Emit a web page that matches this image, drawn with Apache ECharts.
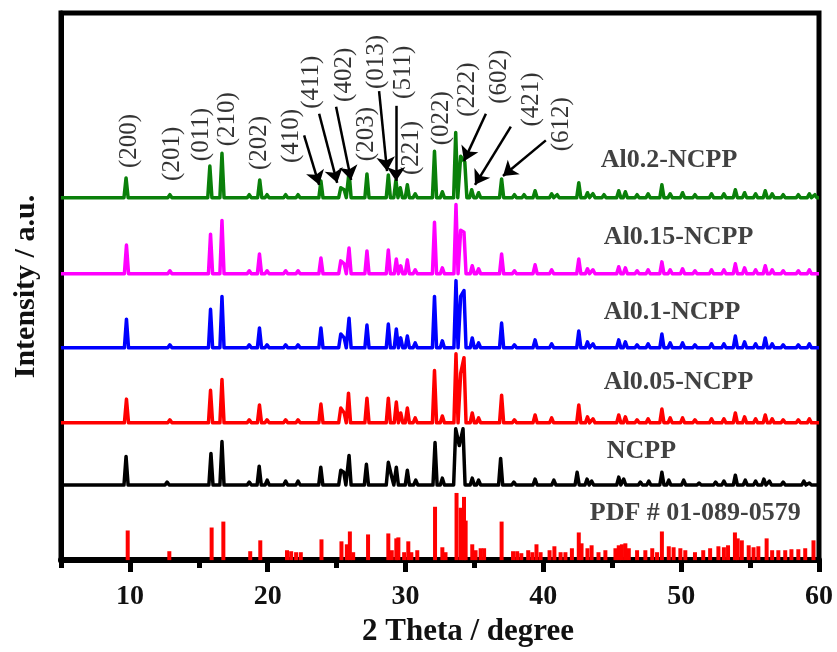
<!DOCTYPE html>
<html>
<head>
<meta charset="utf-8">
<script src="https://cdn.jsdelivr.net/npm/echarts@6/dist/echarts.min.js"></script>
<style>html,body{margin:0;padding:0;background:#fff}#c{width:837px;height:652px}</style>
</head>
<body>
<div id="c"></div>
<script>
// ---------------- DATA (2θ in degrees, intensity in arbitrary units) ----------------
const xTicks = [10, 20, 30, 40, 50, 60];
const xMinorTicks = [5, 15, 25, 35, 45, 55];
const sampleNames = ['Al0.2-NCPP', 'Al0.15-NCPP', 'Al0.1-NCPP', 'Al0.05-NCPP', 'NCPP', 'PDF # 01-089-0579'];

const peaksAl02 = [[9.72,20],[12.9,3],[15.8,32],[16.68,45],[18.66,3],[19.42,18],[19.95,3],[21.3,3],[22.2,3],[23.86,17],[25.3,10],[25.55,8],[25.9,26],[27.2,24],[28.75,23],[29.3,18],[29.62,10],[30.13,13],[30.7,4],[32.1,47],[32.67,6],[33.64,66],[34.0,42],[34.3,36],[34.8,8],[35.3,5],[36.97,19],[37.9,3],[38.6,3],[39.4,7],[40.6,4],[41.0,3],[42.57,15],[43.2,5],[43.6,4],[44.4,3],[45.47,7],[45.95,6],[46.8,3],[47.6,4],[48.6,13],[49.2,4],[50.1,5],[51.0,3],[52.2,4],[53.1,4],[53.93,8],[54.6,5],[55.4,4],[56.1,7],[56.6,4],[57.4,3],[58.5,3],[59.3,4],[59.7,3]];
const peaksAl015 = [[9.75,29],[12.9,3],[15.85,40],[16.68,54],[18.66,3],[19.4,20],[19.95,3],[21.3,3],[22.2,3],[23.86,16],[25.3,13],[25.55,10],[25.9,26],[27.2,23],[28.75,24],[29.33,15],[29.65,8],[30.13,14],[30.7,4],[32.1,52],[32.67,6],[33.66,70],[34.0,44],[34.24,42],[34.84,8],[35.3,5],[36.97,20],[37.9,3],[39.4,9],[40.6,4],[42.57,15],[43.2,5],[43.6,4],[45.47,7],[45.95,6],[46.8,3],[47.6,4],[48.6,12],[49.2,4],[50.1,5],[51.0,3],[52.2,4],[53.1,4],[53.93,10],[54.6,6],[55.4,4],[56.1,8],[56.6,4],[57.4,3],[58.5,3],[59.3,4]];
const peaksAl01 = [[9.75,29],[12.9,3],[15.85,39],[16.68,52],[18.66,3],[19.4,20],[19.95,3],[21.3,3],[22.2,3],[23.86,20],[25.3,14],[25.55,10],[25.9,30],[27.2,23],[28.75,24],[29.33,19],[29.65,10],[30.13,12],[30.7,5],[32.1,52],[32.67,7],[33.66,68],[34.0,52],[34.24,58],[34.84,10],[35.3,5],[36.97,25],[37.9,3],[39.4,8],[40.6,4],[42.57,17],[43.2,6],[43.6,4],[45.47,8],[45.95,6],[46.8,3],[47.6,4],[48.6,14],[49.2,5],[50.1,5],[51.0,3],[52.2,4],[53.1,4],[53.93,12],[54.6,6],[55.4,4],[56.1,10],[56.6,4],[57.4,3],[58.5,3],[59.3,4]];
const peaksAl005 = [[9.75,24],[12.9,3],[15.85,33],[16.68,44],[18.66,3],[19.4,18],[19.95,3],[21.3,3],[22.2,3],[23.86,19],[25.3,15],[25.55,10],[25.86,30],[27.2,25],[28.75,25],[29.33,21],[29.65,10],[30.13,15],[30.7,5],[32.1,53],[32.67,7],[33.66,70],[34.0,50],[34.24,66],[34.84,10],[35.3,5],[36.97,28],[37.9,3],[39.4,8],[40.6,5],[42.57,18],[43.2,6],[43.6,4],[45.47,8],[45.95,6],[46.8,3],[47.6,4],[48.6,14],[49.2,5],[50.1,5],[51.0,3],[52.2,4],[53.1,4],[53.93,10],[54.6,6],[55.4,4],[56.1,8],[56.6,4],[57.4,3],[58.5,3],[59.3,4]];
const peaksNCPP = [[9.72,29],[12.7,3],[15.88,32],[16.68,44],[18.66,3],[19.38,19],[19.96,5],[21.3,4],[22.2,4],[23.85,18],[25.3,15],[25.52,13],[25.9,30],[27.16,21],[28.75,23],[29.0,8],[29.33,18],[30.13,15],[30.74,5],[32.14,43],[32.67,7],[33.64,57],[33.9,40],[34.17,57],[34.84,7],[35.3,5],[36.9,27],[37.86,3],[39.4,6],[40.76,5],[42.45,13],[43.17,6],[43.5,4],[45.47,8],[45.83,6],[47.04,3],[47.65,4],[48.6,13],[49.1,5],[50.18,5],[51.3,2],[52.5,3],[53.1,4],[53.93,10],[54.65,5],[55.4,4],[56.0,6],[56.4,4],[57.4,3],[58.9,4],[59.3,2]];
const pdfLines = [[9.84,30],[12.86,9],[15.93,33],[16.78,39],[18.73,9],[19.46,20],[21.4,10],[21.7,9],[22.06,8],[22.4,8],[23.9,21],[25.35,19],[25.74,16],[25.96,29],[26.2,8],[27.28,26],[28.75,27],[29.0,10],[29.33,22],[29.48,23],[29.9,8],[30.2,19],[30.42,8],[30.85,10],[32.14,54],[32.67,13],[32.9,8],[33.7,68],[34.0,53],[34.24,64],[34.36,40],[34.84,16],[35.08,10],[35.45,12],[35.7,12],[36.97,39],[37.8,9],[38.1,9],[38.4,7],[38.9,10],[39.2,8],[39.5,16],[39.8,8],[40.45,10],[40.8,14],[41.25,8],[41.6,8],[42.07,12],[42.57,28],[42.77,17],[43.2,12],[43.5,15],[44.0,8],[44.5,10],[45.23,12],[45.47,15],[45.7,16],[45.95,17],[46.2,12],[46.8,10],[47.4,10],[47.9,12],[48.25,8],[48.6,29],[49.1,14],[49.45,13],[49.94,12],[50.3,10],[51.0,8],[51.6,10],[52.1,12],[52.7,14],[53.1,13],[53.4,15],[53.9,28],[54.1,22],[54.4,20],[54.9,15],[55.25,13],[55.6,14],[56.2,22],[56.6,10],[57.05,10],[57.55,10],[58.0,11],[58.5,11],[59.0,12],[59.6,20]];
const hklLabels = ['(200)','(201)','(011)','(210)','(202)','(410)','(411)','(402)','(203)','(013)','(511)','(221)','(022)','(222)','(602)','(421)','(612)'];

// ---------------- LAYOUT (positions / styles) ----------------
const FONT = '"Liberation Serif", "Times New Roman", serif';
const offsets = [367, 290, 215, 139, 76];
const colors = ['#0a800a', '#ff00ff', '#0000ff', '#ff0000', '#000000'];
const pdfColor = '#ff0000';
const nameAnchors = [[44.17,405],[44.39,327],[44.39,251],[44.39,180],[44.6,110],[43.37,47]];
const hklAnchors = [[9.96,397],[13.08,384],[15.18,404],[17.07,419],[19.38,395],[21.7,402],[23.15,457],[25.54,464],[27.14,404],[27.86,477],[29.82,467],[30.4,390],[32.57,420],[34.46,449],[36.78,462],[39.1,439],[41.34,414]];
const arrows = [
  [[22.64,430],[23.73,380]],
  [[23.73,452],[25.04,382]],
  [[24.96,459],[26.05,385]],
  [[28.08,475],[28.66,394]],
  [[29.31,460],[29.31,384]],
  [[35.83,452],[34.24,404]],
  [[37.64,439],[35.04,380]],
  [[40.18,425],[37.07,389]]
];
const HALF = 0.15;

function profile(peaks, off) {
  const pts = [[5, off]];
  let hasRight = false, lastRight = -Infinity;
  peaks.forEach(([p, h]) => {
    const l = p - HALF;
    if (hasRight && l <= lastRight) { pts.pop(); } else { pts.push([l, off]); }
    pts.push([p, off + h]);
    lastRight = p + HALF; hasRight = true;
    pts.push([lastRight, off]);
  });
  pts.push([60, off]);
  return pts;
}

const patterns = [peaksAl02, peaksAl015, peaksAl01, peaksAl005, peaksNCPP];
const series = patterns.map((pk, i) => ({
  type: 'line', name: sampleNames[i], data: profile(pk, offsets[i]),
  showSymbol: false, symbol: 'none', silent: true,
  lineStyle: { color: colors[i], width: 3.5, join: 'round' },
  z: 3
}));
series[0].markLine = {
  silent: true, animation: false, symbol: ['none', 'arrow'], symbolSize: 14,
  lineStyle: { color: '#000', width: 2.5, type: 'solid' },
  itemStyle: { color: '#000' },
  label: { show: false },
  emphasis: { disabled: true },
  data: arrows.map(a => [{ coord: a[0] }, { coord: a[1] }])
};
series.push({
  type: 'bar', name: 'PDF', data: pdfLines, barWidth: 4, silent: true,
  itemStyle: { color: pdfColor }, z: 2
});
series.push({
  type: 'scatter', silent: true, symbolSize: 0, z: 5,
  data: nameAnchors.map((a, i) => ({ value: a, name: sampleNames[i] })),
  label: { show: true, position: 'inside', align: 'left', verticalAlign: 'middle',
    formatter: p => p.name, fontFamily: FONT, fontWeight: 'bold', fontSize: 26, color: '#111' }
});
series.push({
  type: 'scatter', silent: true, symbolSize: 0, z: 5,
  data: hklAnchors.map((a, i) => ({ value: a, name: hklLabels[i] })),
  label: { show: true, position: 'inside', rotate: 90, align: 'left', verticalAlign: 'middle',
    formatter: p => p.name, fontFamily: FONT, fontSize: 25, color: '#000' }
});

const chart = echarts.init(document.getElementById('c'), null, { renderer: 'canvas' });
chart.setOption({
  animation: false,
  backgroundColor: '#fff',
  grid: { left: 61, right: 18, top: 13, bottom: 85, show: true, borderColor: '#000', borderWidth: 5, backgroundColor: 'transparent' },
  xAxis: [
    { type: 'value', min: 5, max: 60, position: 'bottom',
      axisLine: { show: true, lineStyle: { color: '#000', width: 6 } },
      axisTick: { show: true, customValues: xTicks, length: 12, inside: false, lineStyle: { color: '#000', width: 5 } },
      axisLabel: { show: true, customValues: xTicks, margin: 23, fontFamily: FONT, fontWeight: 'bold', fontSize: 28, color: '#111' },
      splitLine: { show: false },
      name: '2 Theta / degree', nameLocation: 'middle', nameGap: 50,
      nameTextStyle: { fontFamily: FONT, fontWeight: 'bold', fontSize: 31, color: '#111', padding: [0, 0, 0, 56] } },
    { type: 'value', min: 5, max: 60, position: 'bottom',
      axisLine: { show: false },
      axisTick: { show: true, customValues: xMinorTicks, length: 8, inside: false, lineStyle: { color: '#000', width: 5 } },
      axisLabel: { show: false }, splitLine: { show: false } }
  ],
  yAxis: {
    type: 'value', min: 0, max: 554,
    axisLine: { show: true, lineStyle: { color: '#000', width: 5 } },
    axisTick: { show: false }, axisLabel: { show: false }, splitLine: { show: false },
    name: 'Intensity / a.u.', nameLocation: 'middle', nameGap: 20,
    nameTextStyle: { fontFamily: FONT, fontWeight: 'bold', fontSize: 30, color: '#111' }
  },
  series: series
});
</script>
</body>
</html>
